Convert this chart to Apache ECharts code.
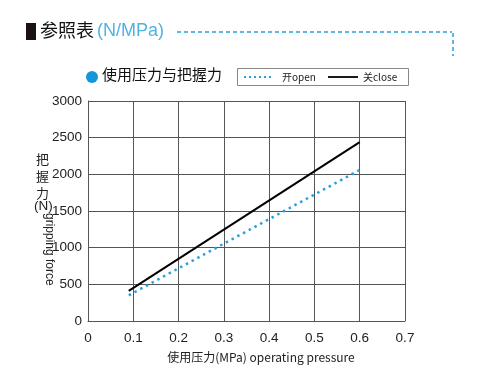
<!DOCTYPE html>
<html><head><meta charset="utf-8">
<script src="https://cdn.jsdelivr.net/npm/echarts@6/dist/echarts.min.js"></script>
<style>html,body{margin:0;padding:0;background:#fff}#c{width:478px;height:374px}</style>
</head><body><div id="c"></div>
<script>
const pressure = [0.09, 0.6];
const openForce = [350, 2060];
const closeForce = [410, 2440];
const xTicks = [0, 0.1, 0.2, 0.3, 0.4, 0.5, 0.6, 0.7];
const yTicks = [0, 500, 1000, 1500, 2000, 2500, 3000];
const seriesNames = ['开open', '关close'];
const FONT = '"Liberation Sans", Arial, "Noto Sans CJK SC", sans-serif';
const CJK = '"Noto Sans CJK SC", "Liberation Sans", sans-serif';
const BLUE = '#2a9fdc';

const chart = echarts.init(document.getElementById('c'), null, {renderer: 'canvas'});
chart.setOption({
  animation: false,
  backgroundColor: '#fff',
  grid: {left: 88, right: 73, top: 101, bottom: 53, containLabel: false},
  xAxis: {
    type: 'value', min: 0, max: 0.7, interval: 0.1,
    axisLine: {show: true, lineStyle: {color: '#555', width: 1}},
    axisTick: {show: false},
    splitLine: {show: true, lineStyle: {color: '#555', width: 1}},
    axisLabel: {fontSize: 13.5, fontFamily: FONT, color: '#222', margin: 11,
      formatter: v => (xTicks.includes(+v.toFixed(1)) ? (v === 0 ? '0' : v.toFixed(1)) : '')}
  },
  yAxis: {
    type: 'value', min: 0, max: 3000, interval: 500,
    axisLine: {show: true, lineStyle: {color: '#555', width: 1}},
    axisTick: {show: false},
    splitLine: {show: true, lineStyle: {color: '#555', width: 1}},
    axisLabel: {fontSize: 13.5, fontFamily: FONT, color: '#222', margin: 6,
      formatter: v => (yTicks.includes(v) ? String(v) : '')}
  },
  series: [
    {name: seriesNames[0], type: 'line', symbol: 'none', color: BLUE,
     lineStyle: {color: BLUE, width: 2.5, type: [2.5, 4]},
     data: pressure.map((p, i) => [p, openForce[i]])},
    {name: seriesNames[1], type: 'line', symbol: 'none', color: '#000',
     lineStyle: {color: '#000', width: 2},
     data: pressure.map((p, i) => [p, closeForce[i]])}
  ],
  graphic: [
    {type: 'rect', shape: {x: 26, y: 23, width: 10, height: 17}, style: {fill: '#1a1210'}},
    {type: 'text', left: 40, top: 21, style: {text: '参照表', font: '18px ' + CJK, fill: '#111'}},
    {type: 'text', left: 97, top: 22, style: {text: '(N/MPa)', font: '18px ' + FONT, fill: '#4fb3e3'}},
    {type: 'line', shape: {x1: 177, y1: 32, x2: 452, y2: 32},
     style: {stroke: BLUE, lineWidth: 1.5, lineDash: [4, 3]}},
    {type: 'line', shape: {x1: 453, y1: 33, x2: 453, y2: 56},
     style: {stroke: BLUE, lineWidth: 1.5, lineDash: [4, 3]}},
    {type: 'circle', shape: {cx: 92, cy: 77, r: 6}, style: {fill: '#1496dc'}},
    {type: 'text', left: 102, top: 67, style: {text: '使用压力与把握力', font: '15px ' + CJK, fill: '#111'}},
    // legend box
    {type: 'rect', shape: {x: 237.5, y: 68.5, width: 171, height: 17}, style: {fill: '#fff', stroke: '#888', lineWidth: 1}},
    {type: 'line', shape: {x1: 244, y1: 77, x2: 274, y2: 77}, style: {stroke: BLUE, lineWidth: 2, lineDash: [2, 3]}},
    {type: 'text', x: 282, y: 77, style: {text: seriesNames[0], font: '10px ' + CJK, fill: '#222', verticalAlign: 'middle'}},
    {type: 'line', shape: {x1: 328, y1: 77, x2: 358, y2: 77}, style: {stroke: '#000', lineWidth: 1.8}},
    {type: 'text', x: 363, y: 77, style: {text: seriesNames[1], font: '10px ' + CJK, fill: '#222', verticalAlign: 'middle'}},
    // y axis name
    {type: 'text', left: 36, top: 151, style: {text: '把\n握\n力', font: '13px ' + CJK, fill: '#222', lineHeight: 17}},
    {type: 'text', left: 34, top: 200, style: {text: '(N)', font: '13.5px ' + FONT, fill: '#222'}},
    {type: 'text', x: 55, y: 213, rotation: -Math.PI / 2,
     style: {text: 'gripping force', font: '12px ' + FONT, fill: '#222', align: 'left', verticalAlign: 'top'}},
    // x axis name
    {type: 'text', x: 261, y: 357, style: {text: '使用压力(MPa) operating pressure', font: '12px ' + CJK, fill: '#222', align: 'center', verticalAlign: 'middle'}}
  ]
});
</script></body></html>
